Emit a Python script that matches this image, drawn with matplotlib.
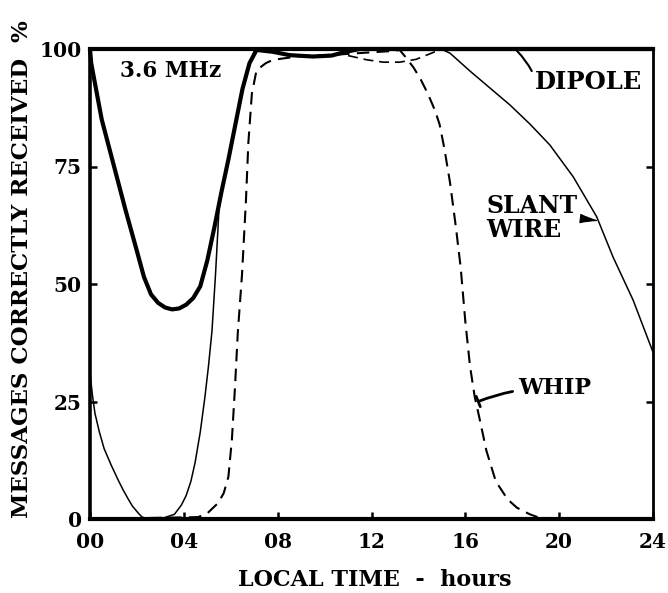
import matplotlib
matplotlib.use("Agg")
import matplotlib.pyplot as plt

# ---- data ----
hours_ticks = [0, 4, 8, 12, 16, 20, 24]
hour_labels = ["00", "04", "08", "12", "16", "20", "24"]
pct_ticks = [0, 25, 50, 75, 100]
pct_labels = ["0", "25", "50", "75", "100"]

dipole_x = [0, 0.05, 0.5, 1.0, 1.5, 2.0, 2.3, 2.6, 2.9, 3.2, 3.5, 3.8, 4.1, 4.4, 4.7,
            5.0, 5.3, 5.6, 5.9, 6.2, 6.5, 6.8, 7.1, 7.8, 8.5, 9.5, 10.3, 10.9, 11.5, 24]
dipole_y = [100, 97, 85, 75.5, 66, 57, 51.5, 47.8, 46, 45, 44.6, 44.8, 45.6, 47, 49.5,
            55, 62, 69.5, 76.5, 84, 91.5, 97, 99.8, 99.4, 98.7, 98.4, 98.6, 99.4, 100, 100]

slant_x = [0, 0.1, 0.21, 0.4, 0.6, 0.9, 1.2, 1.4, 1.6, 1.8, 2.05, 2.2, 2.4, 3.0, 3.6,
           3.9, 4.1, 4.3, 4.48, 4.7, 4.9, 5.05, 5.2, 5.35, 5.5, 5.8, 6.1, 6.4, 6.7,
           7.0, 7.2, 15.05, 15.35, 16.2, 17.05, 17.9, 18.76, 19.6, 20.6, 21.6, 22.3,
           23.15, 24]
slant_y = [31, 26.5, 22.5, 18.5, 15, 11.5, 8.3, 6.3, 4.5, 2.8, 1.3, 0.5, 0, 0, 1,
           3, 5, 8, 12, 18.5, 26, 32.5, 40, 52, 66, 74, 82, 89, 95,
           99.5, 100, 99.8, 99.1, 95.3, 91.7, 88.1, 84.0, 79.6, 72.8, 64.3, 55.7,
           46.6, 35.5]

whip_x = [0, 4.6, 5.0, 5.46, 5.7, 5.9, 6.05, 6.18, 6.3, 6.48, 6.65, 6.75, 6.9, 7.1,
          7.5, 7.8, 9.0, 10.5, 12.0, 13.0, 13.2, 13.5, 13.8, 14.1, 14.4, 14.7, 14.9,
          15.1, 15.35, 15.6, 15.8, 16.0, 16.2, 16.4, 16.6, 16.9, 17.3, 17.8, 18.2,
          18.75, 19.3, 24]
whip_y = [0, 0.4, 1.2, 3.4, 5.5, 9, 17, 28, 39.6, 52, 68, 80, 90.5, 95.5,
          97, 97.7, 98.5, 98.8, 99.3, 99.6, 99.8, 98, 96, 93.5, 90.5, 87, 84,
          79, 71.5, 62, 53.6, 42, 32.5, 26, 21.5, 14.5, 8, 4.2, 2.4,
          1, 0, 0]

whip_arc_x = [11.0, 11.8, 12.5, 13.2, 13.9, 14.5, 15.0]
whip_arc_y = [98.6, 97.7, 97.2, 97.2, 97.8, 99.0, 100]

FONT = "DejaVu Serif"
W, H = 668, 593

fig = plt.figure(figsize=(W / 100, H / 100), dpi=100)
ax = fig.add_axes([90 / W, 1 - 519 / H, (653 - 90) / W, (519 - 49) / H])
ax.set_xlim(0, 24)
ax.set_ylim(0, 100)

ax.plot(dipole_x, dipole_y, color="black", lw=3.0, solid_capstyle="round",
        solid_joinstyle="round", clip_on=False, zorder=4)
ax.plot(slant_x, slant_y, color="black", lw=1.1, solid_joinstyle="round",
        clip_on=False, zorder=3)
ax.plot(whip_x, whip_y, color="black", lw=1.5, linestyle=(0, (6, 3.5)),
        clip_on=False, zorder=3)
ax.plot(whip_arc_x, whip_arc_y, color="black", lw=1.2, linestyle=(0, (6, 3.5)),
        clip_on=False, zorder=3)

# spines
for side, lw in [("left", 2.6), ("bottom", 3.0), ("top", 3.0), ("right", 2.0)]:
    ax.spines[side].set_linewidth(lw)
    ax.spines[side].set_color("black")

ax.set_xticks(hours_ticks)
ax.set_xticklabels(hour_labels)
ax.set_yticks(pct_ticks)
ax.set_yticklabels(pct_labels)
ax.tick_params(axis="both", direction="in", length=5, width=1.8, color="black",
               labelsize=14.5)
ax.tick_params(axis="y", right=True, pad=6)
ax.tick_params(axis="x", pad=9)
for lab in ax.get_xticklabels() + ax.get_yticklabels():
    lab.set_fontfamily(FONT)
    lab.set_fontweight("bold")

fig.text(375 / W, 1 - 580 / H, "LOCAL TIME  -  hours", ha="center", va="center",
         fontsize=16, fontweight="bold", family=FONT)
fig.text(22 / W, 1 - 269 / H, "MESSAGES CORRECTLY RECEIVED  %", ha="center",
         va="center", rotation=90, fontsize=16.5, fontweight="bold", family=FONT)

ax.text(3.45, 95.3, "3.6 MHz", ha="center", va="center", fontsize=15.5,
        fontweight="bold", family=FONT)

ax.annotate("DIPOLE", xy=(18.2, 99.6), xytext=(18.95, 93.0), ha="left", va="center",
            fontsize=17.5, fontweight="bold", family=FONT,
            arrowprops=dict(arrowstyle="-", lw=1.5, color="black",
                            connectionstyle="arc3,rad=0.1", shrinkA=0, shrinkB=0,
                            relpos=(0.0, 0.7)))
ax.annotate("SLANT\nWIRE", xy=(21.6, 63.5), xytext=(16.9, 64.0), ha="left",
            va="center", fontsize=17, fontweight="bold", family=FONT, linespacing=1.0,
            arrowprops=dict(arrowstyle="wedge,tail_width=0.35,shrink_factor=0.4",
                            lw=0.8, color="black", shrinkA=0, shrinkB=0,
                            relpos=(1.0, 0.5)))
ax.annotate("WHIP", xy=(16.55, 25.0), xytext=(18.25, 27.9), ha="left", va="center",
            fontsize=16, fontweight="bold", family=FONT,
            arrowprops=dict(arrowstyle="-[,widthB=0.25,lengthB=0", lw=2.0,
                            color="black", shrinkA=2, shrinkB=0,
                            connectionstyle="arc3,rad=0.1"))

fig.savefig("out.png", dpi=100)
